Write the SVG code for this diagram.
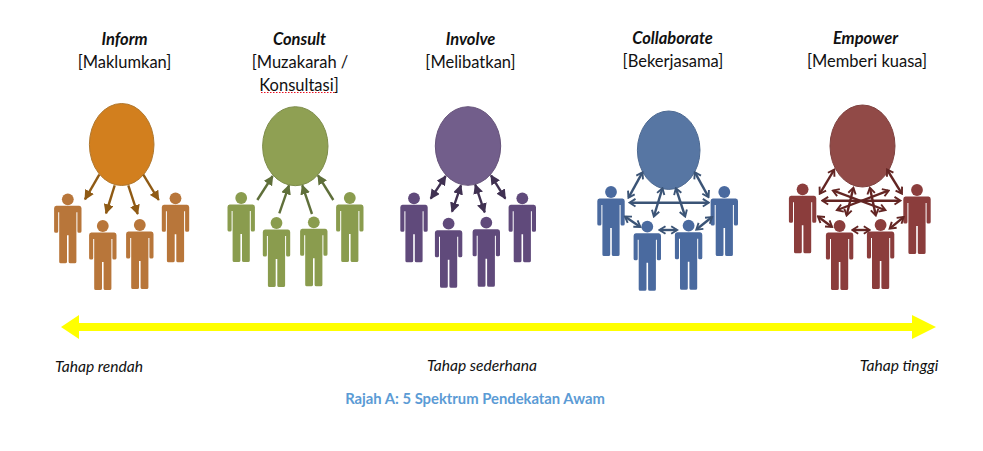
<svg xmlns="http://www.w3.org/2000/svg" width="983" height="451" viewBox="0 0 983 451">
<style>
text{font-family:Lato,"Liberation Sans",sans-serif;text-anchor:middle;fill:#111}
.t{font-size:16.5px;font-weight:700;font-style:italic}
.s{font-size:16.5px}
.l{font-size:15.6px;font-style:italic}
.c{font-size:14.8px;font-weight:700;fill:#5b9bd5}
.lk{fill:none;stroke-width:2.4}
.or{fill:#b8763a}.gr{fill:#8a9c4e}.pu{fill:#604a7b}.bl{fill:#4a6a9f}.re{fill:#8b3d3c}
.lor{stroke:#8f5a14}.lgr{stroke:#5f6f3a}.lpu{stroke:#403152}.lbl{stroke:#3b5476}.lre{stroke:#632523}
</style>
<defs>
<g id="p">
<circle cx="0" cy="0" r="5.9"/>
<path d="M-11.5 6.5H11.5Q13.7 6.5 13.7 9V32Q13.7 33.5 12 33.5H11Q9.6 33.5 9.6 32V13H8.6V62.5Q8.6 64 7 64H2.5Q0.8 64 0.8 62.5V36H-0.8V62.5Q-0.8 64 -2.5 64H-7Q-8.6 64 -8.6 62.5V13H-9.6V32Q-9.6 33.5 -11 33.5H-12Q-13.7 33.5 -13.7 32V9Q-13.7 6.5 -11.5 6.5Z"/>
</g>
<marker id="aor" markerUnits="userSpaceOnUse" markerWidth="11" markerHeight="10" refX="9" refY="5" orient="auto-start-reverse"><path d="M0 0L10 5L0 10Z" fill="#8f5a14"/></marker>
<marker id="agr" markerUnits="userSpaceOnUse" markerWidth="11" markerHeight="10" refX="9" refY="5" orient="auto-start-reverse"><path d="M0 0L10 5L0 10Z" fill="#5f6f3a"/></marker>
<marker id="apu" markerUnits="userSpaceOnUse" markerWidth="11" markerHeight="10" refX="9" refY="5" orient="auto-start-reverse"><path d="M0 0L10 5L0 10Z" fill="#403152"/></marker>
<marker id="abl" markerUnits="userSpaceOnUse" markerWidth="10" markerHeight="10" refX="8" refY="5" orient="auto-start-reverse"><path d="M2.5 1.2L8.5 5L2.5 8.8" fill="none" stroke="#3b5476" stroke-width="1.9"/></marker>
<marker id="are" markerUnits="userSpaceOnUse" markerWidth="10" markerHeight="10" refX="8" refY="5" orient="auto-start-reverse"><path d="M2.5 1.2L8.5 5L2.5 8.8" fill="none" stroke="#632523" stroke-width="1.9"/></marker>
</defs>

<g id="node-inform">
<text class="t" x="124.5" y="45">Inform</text>
<text class="s" x="124.5" y="67.5">[Maklumkan]</text>
<ellipse cx="121.7" cy="144.5" rx="32.3" ry="41" fill="#d27f1e" stroke="#b0782f"/>
<g class="or"><use href="#p" x="67.8" y="199.3"/><use href="#p" x="102.8" y="226"/><use href="#p" x="139.8" y="225"/><use href="#p" x="175.5" y="198.3"/></g>
</g>
<g id="node-consult">
<text class="t" x="299.5" y="45">Consult</text>
<text class="s" x="300" y="67.5">[Muzakarah /</text>
<text class="s" x="299" y="90.5">Konsultasi]</text>
<path d="M261 92.5H334" fill="none" stroke="#e81123" stroke-width="1" stroke-dasharray="1.5 1.5"/>
<ellipse cx="295.3" cy="146.2" rx="32.7" ry="39.5" fill="#8fa053" stroke="#7d8c4a"/>
<g class="gr"><use href="#p" x="241.2" y="198"/><use href="#p" x="276.5" y="223"/><use href="#p" x="313.8" y="222.3"/><use href="#p" x="349.8" y="198"/></g>
</g>
<g id="node-involve">
<text class="t" x="470.5" y="45">Involve</text>
<text class="s" x="470.5" y="67.5">[Melibatkan]</text>
<ellipse cx="468" cy="146" rx="32.7" ry="39.3" fill="#725e8b" stroke="#655279"/>
<g class="pu"><use href="#p" x="414" y="198.3"/><use href="#p" x="448.6" y="223.7"/><use href="#p" x="486.3" y="222.7"/><use href="#p" x="522.3" y="198.3"/></g>
</g>
<g id="node-collaborate">
<text class="t" x="672.5" y="44">Collaborate</text>
<text class="s" x="673" y="66.5">[Bekerjasama]</text>
<ellipse cx="668.7" cy="150.2" rx="31.3" ry="39.2" fill="#5776a3" stroke="#4e6a92"/>
<g class="bl"><use href="#p" x="611" y="192"/><use href="#p" x="647.3" y="226.7"/><use href="#p" x="688.6" y="225.7"/><use href="#p" x="724.3" y="192"/></g>
</g>
<g id="node-empower">
<text class="t" x="865.5" y="44">Empower</text>
<text class="s" x="867" y="66.5">[Memberi kuasa]</text>
<ellipse cx="862.5" cy="146" rx="32.5" ry="41" fill="#914a47" stroke="#7f4240"/>
<g class="re"><use href="#p" x="802.6" y="189.3"/><use href="#p" x="839.6" y="226"/><use href="#p" x="880.6" y="225"/><use href="#p" x="917" y="190"/></g>
</g>

<g id="connectors">
<g class="lk lor">
<path marker-end="url(#aor)" d="M99.3 174.7L85 199.3"/><path marker-end="url(#aor)" d="M114.7 185.3L106 213.3"/><path marker-end="url(#aor)" d="M128.3 185.3L137.7 214"/><path marker-end="url(#aor)" d="M143.3 174.7L158.7 200"/>
</g>
<g class="lk lgr">
<path marker-end="url(#agr)" d="M257.3 200L272.7 176"/><path marker-end="url(#agr)" d="M279.3 213.3L289 185.3"/><path marker-end="url(#agr)" d="M312 214L302.3 185.3"/><path marker-end="url(#agr)" d="M333.3 200L318 175.3"/>
</g>
<g class="lk lpu">
<path marker-start="url(#apu)" marker-end="url(#apu)" d="M430.7 198.7L445.7 176"/><path marker-start="url(#apu)" marker-end="url(#apu)" d="M452 211.7L461 185.3"/><path marker-start="url(#apu)" marker-end="url(#apu)" d="M484.7 212.3L475.3 184.7"/><path marker-start="url(#apu)" marker-end="url(#apu)" d="M505.3 198.7L491 175.3"/>
</g>
<g class="lk lbl">
<path marker-start="url(#abl)" marker-end="url(#abl)" d="M628.7 197.3L642.3 172.7"/><path marker-start="url(#abl)" marker-end="url(#abl)" d="M654 216L662.3 188.7"/><path marker-start="url(#abl)" marker-end="url(#abl)" d="M685 216L676 188.7"/><path marker-start="url(#abl)" marker-end="url(#abl)" d="M708.3 196.7L695 172.7"/>
<path marker-start="url(#abl)" marker-end="url(#abl)" d="M630 202.7H708.3"/><path marker-start="url(#abl)" marker-end="url(#abl)" d="M625.3 216.7L640 226.7"/><path marker-start="url(#abl)" marker-end="url(#abl)" d="M660 230H676.7"/><path marker-start="url(#abl)" marker-end="url(#abl)" d="M711.7 217.3L696.7 229.3"/>
</g>
<g class="lk lre">
<path marker-start="url(#are)" marker-end="url(#are)" d="M820 193.3L834 170"/><path marker-start="url(#are)" marker-end="url(#are)" d="M846.7 215L853.3 188.3"/><path marker-start="url(#are)" marker-end="url(#are)" d="M875.7 215L870 188.3"/><path marker-start="url(#are)" marker-end="url(#are)" d="M901.7 193.3L887.3 170"/>
<path marker-start="url(#are)" marker-end="url(#are)" d="M822.7 200.7H900"/><path marker-start="url(#are)" marker-end="url(#are)" d="M833.3 190.7L885 210"/><path marker-start="url(#are)" marker-end="url(#are)" d="M888.3 190.7L837.3 210"/>
<path marker-start="url(#are)" marker-end="url(#are)" d="M818.3 216.7L831.7 226.7"/><path marker-start="url(#are)" marker-end="url(#are)" d="M852.7 230H869.3"/><path marker-start="url(#are)" marker-end="url(#are)" d="M903.3 217.3L890 228.3"/>
</g>
<path id="spectrum" d="M61 327L79 315V323H912V315L936 327L912 339V331H79V339Z" fill="#ffff00"/>
</g>

<g id="labels">
<text class="l" x="99" y="372">Tahap rendah</text>
<text class="l" x="482" y="371">Tahap sederhana</text>
<text class="l" x="899" y="371">Tahap tinggi</text>
<text class="c" x="475" y="404">Rajah A: 5 Spektrum Pendekatan Awam</text>
</g>
</svg>
